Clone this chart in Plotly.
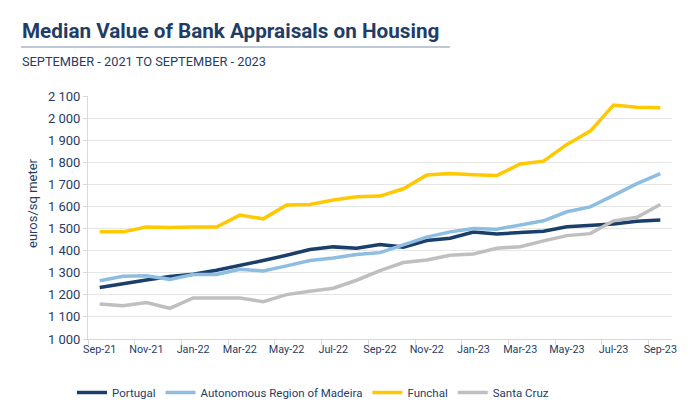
import plotly.graph_objects as go

# Months on the x axis (Sep-21 .. Sep-23)
months = ["Sep-21", "Oct-21", "Nov-21", "Dec-21", "Jan-22", "Feb-22", "Mar-22",
          "Apr-22", "May-22", "Jun-22", "Jul-22", "Aug-22", "Sep-22", "Oct-22",
          "Nov-22", "Dec-22", "Jan-23", "Feb-23", "Mar-23", "Apr-23", "May-23",
          "Jun-23", "Jul-23", "Aug-23", "Sep-23"]

# Median value, euros per square meter
portugal = [1233, 1248, 1267, 1283, 1293, 1311, 1331, 1355, 1379, 1405, 1417, 1411,
            1428, 1416, 1446, 1456, 1484, 1475, 1482, 1488, 1508, 1515, 1521, 1533, 1539]
madeira = [1264, 1284, 1286, 1270, 1292, 1292, 1316, 1308, 1331, 1355, 1367, 1382,
           1391, 1425, 1461, 1485, 1500, 1497, 1518, 1535, 1576, 1598, 1650, 1703, 1749]
funchal = [1485, 1485, 1507, 1505, 1507, 1507, 1561, 1544, 1607, 1609, 1629, 1644,
           1647, 1680, 1742, 1749, 1744, 1740, 1792, 1805, 1881, 1941, 2059, 2049, 2047]
santa_cruz = [1159, 1151, 1165, 1139, 1186, 1186, 1186, 1169, 1201, 1216, 1230, 1266,
              1310, 1346, 1358, 1379, 1385, 1411, 1418, 1444, 1468, 1477, 1535, 1551, 1609]

series = [
    ("Portugal", portugal, "#1b3f6b"),
    ("Autonomous Region of Madeira", madeira, "#8dbde0"),
    ("Funchal", funchal, "#ffc800"),
    ("Santa Cruz", santa_cruz, "#bfbfbf"),
]

navy = "#1f3d66"
font = "Roboto"

W, H = 700, 412
OFF = 8  # the page body adds an 8px offset; positions below are screen pixels
plot_left, plot_right, plot_top, plot_bottom = 88, 672, 96, 339
L = plot_left - OFF
T = plot_top - OFF
R = W - (plot_right - OFF)
B = H - (plot_bottom - OFF)
plot_h = plot_bottom - plot_top
plot_w = plot_right - plot_left

# screen pixel -> paper coordinate helpers
def py(px):
    return (plot_bottom - px) / plot_h

def pxx(px):
    return (px - plot_left) / plot_w

fig = go.Figure()
for name, vals, color in series:
    fig.add_trace(go.Scatter(
        x=months, y=vals, mode="lines", name=name,
        line=dict(color=color, width=3.5),
    ))

fig.update_layout(
    width=W, height=H,
    paper_bgcolor="white", plot_bgcolor="white",
    font=dict(family=font, color=navy, size=12),
    separators=". ",
    margin=dict(l=L, r=R, t=T, b=B, autoexpand=False),
    showlegend=True,
    legend=dict(orientation="h", x=pxx(72), xanchor="left", y=py(378), yanchor="top",
                font=dict(size=11.5, color=navy), traceorder="normal"),
    xaxis=dict(
        type="category", tickmode="linear", tick0=0, dtick=2,
        tickson="boundaries", ticks="outside", ticklen=5, tickcolor="#d9d9d9",
        showline=True, linecolor="#d9d9d9", linewidth=1,
        showgrid=False, tickangle=0, automargin=False,
        tickfont=dict(size=10.8, color=navy),
        range=[-0.5, 24.5],
    ),
    yaxis=dict(
        range=[1000, 2100], dtick=100, tickformat=",d",
        showgrid=True, gridcolor="#e6e6e6", gridwidth=1,
        ticks="outside", ticklen=4, tickcolor="#d9d9d9",
        showline=True, linecolor="#d9d9d9", linewidth=1,
        zeroline=False, automargin=False,
        tickfont=dict(size=13, color=navy),
    ),
)

# Title block
fig.add_annotation(text="<b>Median Value of Bank Appraisals on Housing</b>",
                   xref="paper", yref="paper", x=pxx(20), y=py(31),
                   xanchor="left", yanchor="middle", showarrow=False,
                   font=dict(size=20.7, color=navy, family=font))
fig.add_annotation(text="SEPTEMBER - 2021 TO SEPTEMBER - 2023",
                   xref="paper", yref="paper", x=pxx(20), y=py(62),
                   xanchor="left", yanchor="middle", showarrow=False,
                   font=dict(size=12.8, color=navy, family=font))
fig.add_shape(type="line", xref="paper", yref="paper",
              x0=pxx(21), x1=pxx(450), y0=py(47), y1=py(47),
              line=dict(color="#7f93ad", width=1))

# y axis title
fig.add_annotation(text="euros/sq meter", textangle=-90,
                   xref="paper", yref="paper", x=pxx(32), y=py(203),
                   xanchor="center", yanchor="middle", showarrow=False,
                   font=dict(size=13, color=navy, family=font))

fig.write_html("out.html")
